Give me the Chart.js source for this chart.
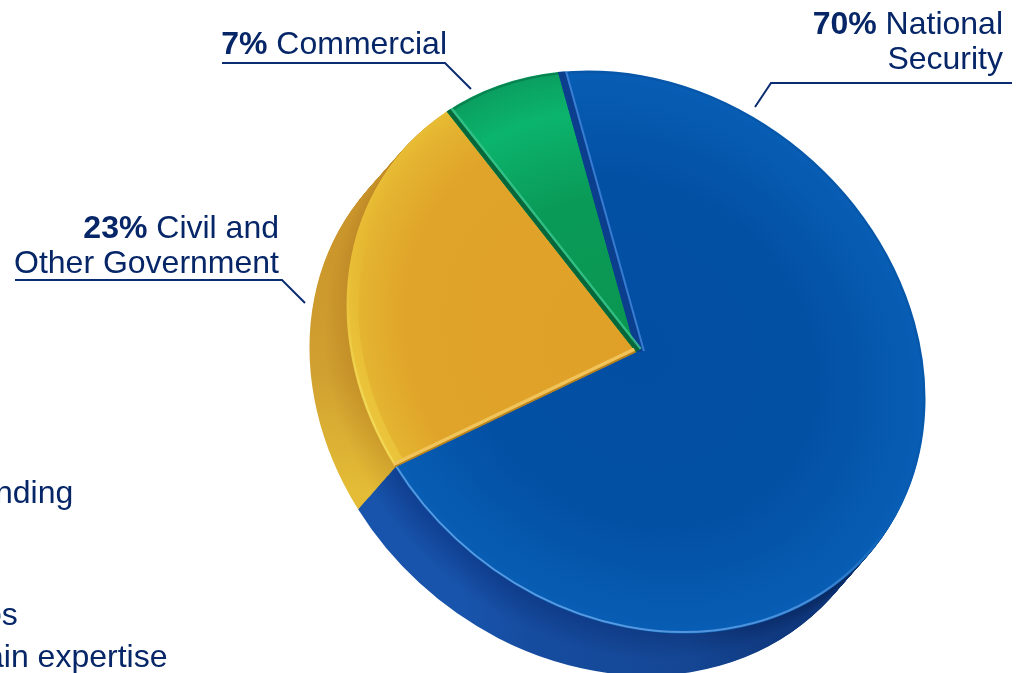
<!DOCTYPE html>
<html>
<head>
<meta charset="utf-8">
<script src="https://cdn.jsdelivr.net/npm/chart.js@4"></script>
<style>
  html, body { margin: 0; padding: 0; background: #fff; overflow: hidden; }
  #wrap { position: relative; width: 1016px; height: 673px; overflow: hidden; }
  canvas { position: absolute; left: 0; top: 0; }
  .lbl { position: absolute; font: 32px/34.5px "Liberation Sans", Arial, sans-serif; color: #062668; white-space: nowrap; }
  .lbl.r { text-align: right; }
</style>
</head>
<body>
<div id="wrap">
  <canvas id="pie" width="1016" height="673"></canvas>
  <div class="lbl r" style="right:13px;top:6px"><b>70%</b> National<br>Security</div>
  <div class="lbl r" style="right:569px;top:26px"><b>7%</b> Commercial</div>
  <div class="lbl r" style="right:737px;top:210px"><b>23%</b> Civil and<br>Other Government</div>
  <div class="lbl" style="left:-5px;top:475px">nding</div>
  <div class="lbl" style="left:-16px;top:597px">os</div>
  <div class="lbl" style="left:-14px;top:639px">ain expertise</div>
</div>
<script>
const categories = ['National Security', 'Civil and Other Government', 'Commercial'];
const shares = [70, 23, 7];

// the pie is a tilted disc, so the circle goes through this skew
const center = { x: 636, y: 352 };
const tilt = { a: 278.8, b: -30, c: 78, d: 280 };
const depth = { x: -37, y: 42, steps: 44 };
const leaders = [
  [[1012, 83], [771, 83], [755, 107]],
  [[222, 63], [445, 63], [471, 89]],
  [[15, 280], [282, 280], [305, 303]]
];

const blueSideAt = [0, 0.12, 0.42, 0.55, 0.72, 0.85, 1];
const blueSideOuter = ['#1854ac', '#164c9f', '#144694', '#113c84', '#0c3274', '#0e3a82', '#0b2c68'];
const blueSideInner = ['#103f90', '#0f3c8a', '#113c84', '#0c3070', '#08275e', '#0a2c68', '#0a2a60'];
const yellowSideAt = [0, 0.5, 0.8, 1];
const yellowSideOuter = ['#c8922a', '#d0a030', '#e4bc36', '#dcb42e'];
const yellowSideInner = ['#c08a28', '#c49028', '#d4a82e', '#d8b030'];

function mix(c0, c1, t) {
  const a = parseInt(c0.slice(1), 16), b = parseInt(c1.slice(1), 16);
  const part = sh => Math.round(((a >> sh) & 255) * (1 - t) + ((b >> sh) & 255) * t);
  return `rgb(${part(16)},${part(8)},${part(0)})`;
}

function faceTransform(ctx, arc) {
  const r = arc.outerRadius;
  ctx.translate(center.x, center.y);
  ctx.transform(tilt.a / r, tilt.b / r, tilt.c / r, tilt.d / r, 0, 0);
  ctx.translate(-arc.x, -arc.y);
}

// gradient given in page pixels, whatever transform is active
function screenGradient(ctx, x0, y0, x1, y1, stops) {
  const m = ctx.getTransform().inverse();
  const p0 = m.transformPoint({ x: x0, y: y0 });
  const p1 = m.transformPoint({ x: x1, y: y1 });
  const g = ctx.createLinearGradient(p0.x, p0.y, p1.x, p1.y);
  stops.forEach(s => g.addColorStop(s[0], s[1]));
  return g;
}

// t runs from 0 under the rim to 1 at the outer edge of the side wall
function sideFill(ctx, i, t) {
  if (i === 0) {
    return screenGradient(ctx, 360, 0, 880, 0, blueSideAt.map((at, k) => [at, mix(blueSideInner[k], blueSideOuter[k], t)]));
  }
  if (i === 1) {
    return screenGradient(ctx, 0, 130, 0, 510, yellowSideAt.map((at, k) => [at, mix(yellowSideInner[k], yellowSideOuter[k], t)]));
  }
  return '#0a7a48';
}

function faceFill(c) {
  const area = c.chart.chartArea;
  const i = c.dataIndex;
  if (!area) return '#024fa3';
  const x = (area.left + area.right) / 2, y = (area.top + area.bottom) / 2;
  const r = Math.min(area.width, area.height) / 2;
  const g = c.chart.ctx.createRadialGradient(x, y, 0, x, y, r);
  const stops = [
    [[0, '#024ea2'], [0.62, '#0250a4'], [0.95, '#075cb2'], [1, '#085eb4']],
    [[0, '#e0a028'], [0.8, '#e0a42a'], [0.95, '#e4b430'], [1, '#e8bc34']],
    [[0, '#0a9650'], [0.55, '#0a9a58'], [0.85, '#0bb46c'], [1, '#0a9e60']]
  ][i];
  stops.forEach(s => g.addColorStop(s[0], s[1]));
  return g;
}

function edgeLine(ctx, arc, angle, shift, width, color) {
  const nx = -Math.sin(angle) * shift, ny = Math.cos(angle) * shift;
  ctx.beginPath();
  ctx.moveTo(arc.x + nx, arc.y + ny);
  ctx.lineTo(arc.x + nx + Math.cos(angle) * arc.outerRadius * 1.1, arc.y + ny + Math.sin(angle) * arc.outerRadius * 1.1);
  ctx.lineWidth = width;
  ctx.strokeStyle = color;
  ctx.stroke();
}

const disc3d = {
  id: 'disc3d',
  beforeDatasetsDraw(chart) {
    const ctx = chart.ctx;
    const arcs = chart.getDatasetMeta(0).data;
    for (let s = depth.steps; s >= 1; s--) {
      const t = Math.min(1, (s / depth.steps) * 1.6);
      ctx.save();
      ctx.translate(depth.x * s / depth.steps, depth.y * s / depth.steps);
      faceTransform(ctx, arcs[0]);
      arcs.forEach((arc, i) => {
        const orig = arc.options;
        arc.options = Object.assign(Object.create(orig), { backgroundColor: sideFill(ctx, i, t) });
        arc.draw(ctx);
        arc.options = orig;
      });
      ctx.restore();
    }
    ctx.save();
    faceTransform(ctx, arcs[0]);
  },
  afterDatasetsDraw(chart) {
    const ctx = chart.ctx;
    const arcs = chart.getDatasetMeta(0).data;
    const p = arcs[0];
    const r = p.outerRadius;
    const k = r / 280; // bevel sizes below are page pixels

    // rim highlights
    ctx.lineWidth = 2 * k;
    ctx.beginPath();
    ctx.arc(p.x, p.y, r - 1.5 * k, arcs[0].startAngle, arcs[0].endAngle);
    ctx.strokeStyle = screenGradient(ctx, 800, 250, 560, 650, [[0, 'rgba(0,40,100,0.15)'], [0.3, 'rgba(0,40,100,0.06)'], [0.4, 'rgba(110,170,240,0)'], [0.6, 'rgba(110,170,240,0.6)'], [1, 'rgba(120,180,245,0.75)']]);
    ctx.stroke();
    ctx.beginPath();
    ctx.arc(p.x, p.y, r - 6 * k, arcs[1].startAngle, arcs[1].endAngle);
    ctx.lineWidth = 11 * k;
    ctx.strokeStyle = screenGradient(ctx, 0, 170, 0, 340, [[0, 'rgba(238,205,65,0)'], [1, 'rgba(238,205,65,0.55)']]);
    ctx.stroke();
    ctx.beginPath();
    ctx.arc(p.x, p.y, r - 1.5 * k, arcs[1].startAngle, arcs[1].endAngle);
    ctx.lineWidth = 2 * k;
    ctx.strokeStyle = screenGradient(ctx, 0, 200, 0, 340, [[0, 'rgba(240,205,80,0)'], [1, 'rgba(245,225,100,0.7)']]);
    ctx.stroke();
    ctx.beginPath();
    ctx.arc(p.x, p.y, r - 1.5 * k, arcs[2].startAngle, arcs[2].endAngle);
    ctx.strokeStyle = 'rgba(0,80,50,0.35)';
    ctx.stroke();

    // bevels along the slice edges
    ctx.save();
    ctx.beginPath();
    ctx.arc(p.x, p.y, r, 0, Math.PI * 2);
    ctx.clip();
    const blueStart = arcs[0].startAngle, yellowStart = arcs[1].startAngle, greenStart = arcs[2].startAngle;
    edgeLine(ctx, p, blueStart, 3.5 * k, 7 * k, '#0b3f8e');
    edgeLine(ctx, p, blueStart, 8 * k, 2 * k, 'rgba(70,135,220,0.8)');
    edgeLine(ctx, p, greenStart, 2.5 * k, 5 * k, '#06683a');
    edgeLine(ctx, p, greenStart, 6 * k, 2.5 * k, 'rgba(56,196,140,0.85)');
    edgeLine(ctx, p, yellowStart, 0.5 * k, 1.5 * k, '#b5801f');
    edgeLine(ctx, p, yellowStart, 3 * k, 3 * k, '#f0c45a');
    ctx.restore();
    ctx.restore();
  },
  afterDraw(chart) {
    const ctx = chart.ctx;
    ctx.save();
    ctx.strokeStyle = '#0a2c70';
    ctx.lineWidth = 2;
    leaders.forEach(l => {
      ctx.beginPath();
      l.forEach((pt, i) => i ? ctx.lineTo(pt[0], pt[1]) : ctx.moveTo(pt[0], pt[1]));
      ctx.stroke();
    });
    ctx.restore();
  }
};

new Chart(document.getElementById('pie'), {
  type: 'pie',
  data: {
    labels: categories,
    datasets: [{
      data: shares,
      borderWidth: 0,
      backgroundColor: faceFill
    }]
  },
  options: {
    responsive: false,
    devicePixelRatio: 1,
    animation: false,
    plugins: { legend: { display: false }, tooltip: { enabled: false } }
  },
  plugins: [disc3d]
});
</script>
</body>
</html>
